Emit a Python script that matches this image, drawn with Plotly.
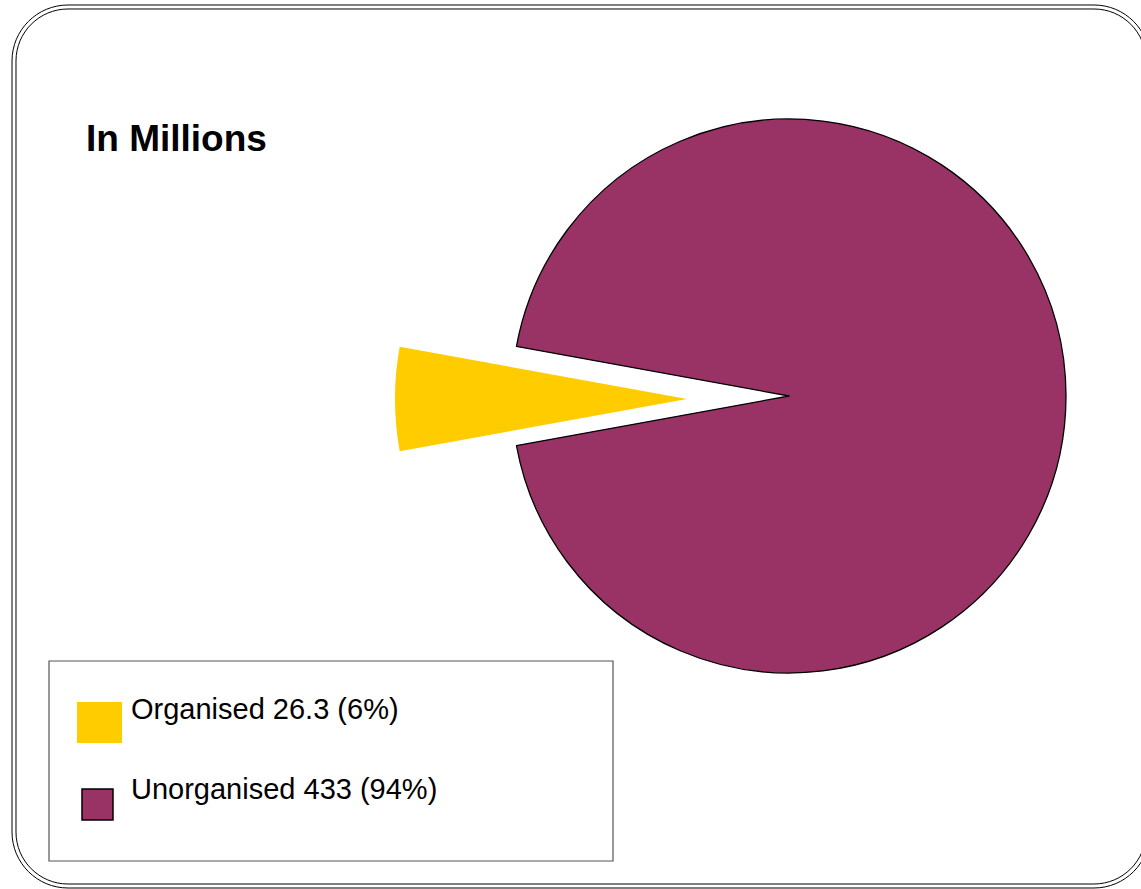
import plotly.graph_objects as go

# Canvas size in pixels
W, H = 1141, 889

# Workforce split, in millions
labels = ["Organised", "Unorganised"]
values = [26.3, 433]
percent_labels = [6, 94]
colors = ["#FFCC00", "#993366"]

title_text = "In Millions"
font_family = "Liberation Sans, Arial, sans-serif"


def fx(px):
    """Pixel x -> paper fraction."""
    return px / W


def fy(py):
    """Pixel y (from the top) -> paper fraction."""
    return 1 - py / H


def box_domain(cx, cy, r):
    return dict(x=[fx(cx - r), fx(cx + r)], y=[fy(cy + r), fy(cy - r)])


def rounded_rect(x0, y0, x1, y1, r):
    k = 0.5523 * r
    pts = [
        ("M", [(x0 + r, y0)]),
        ("L", [(x1 - r, y0)]),
        ("C", [(x1 - r + k, y0), (x1, y0 + r - k), (x1, y0 + r)]),
        ("L", [(x1, y1 - r)]),
        ("C", [(x1, y1 - r + k), (x1 - r + k, y1), (x1 - r, y1)]),
        ("L", [(x0 + r, y1)]),
        ("C", [(x0 + r - k, y1), (x0, y1 - r + k), (x0, y1 - r)]),
        ("L", [(x0, y0 + r)]),
        ("C", [(x0, y0 + r - k), (x0 + r - k, y0), (x0 + r, y0)]),
    ]
    parts = []
    for cmd, coords in pts:
        parts.append(cmd + " ".join(f"{fx(a):.5f},{fy(b):.5f}" for a, b in coords))
    return " ".join(parts) + " Z"


total = sum(values)
first_span = values[0] / total * 360
# put the first slice centred on 9 o'clock
rotation = 270 - first_span / 2
clear = "rgba(0,0,0,0)"

fig = go.Figure()

# Body of the pie: unorganised share, with the organised wedge left open
fig.add_trace(go.Pie(
    labels=labels,
    values=values,
    sort=False,
    direction="clockwise",
    rotation=rotation,
    marker=dict(colors=[clear, colors[1]],
                line=dict(color=[clear, "#000000"], width=[0, 1.3])),
    textinfo="none",
    hoverinfo="label+value+percent",
    showlegend=False,
    domain=box_domain(789, 396, 277),
))

# Exploded organised wedge, pushed out to the left
fig.add_trace(go.Pie(
    labels=labels,
    values=values,
    sort=False,
    direction="clockwise",
    rotation=rotation,
    marker=dict(colors=[colors[0], clear],
                line=dict(color=[clear, clear], width=[0, 0])),
    textinfo="none",
    hoverinfo="label+value+percent",
    showlegend=False,
    domain=box_domain(687, 399, 292),
))

shapes = [
    # double rounded frame
    dict(type="path", xref="paper", yref="paper",
         path=rounded_rect(12, 5, 1150, 888, 56),
         line=dict(color="#000000", width=1)),
    dict(type="path", xref="paper", yref="paper",
         path=rounded_rect(16, 9, 1146, 884, 52),
         line=dict(color="#000000", width=1)),
    # legend box
    dict(type="rect", xref="paper", yref="paper",
         x0=fx(49), x1=fx(613), y0=fy(861), y1=fy(661),
         line=dict(color="#555555", width=1.2), fillcolor="white"),
    # legend swatches
    dict(type="rect", xref="paper", yref="paper",
         x0=fx(77), x1=fx(122), y0=fy(743), y1=fy(702),
         line=dict(width=0), fillcolor=colors[0]),
    dict(type="rect", xref="paper", yref="paper",
         x0=fx(82), x1=fx(113), y0=fy(820), y1=fy(789),
         line=dict(color="#000000", width=1.5), fillcolor=colors[1]),
]

annotations = [
    dict(text=f"<b>{title_text}</b>", x=fx(84), y=fy(138),
         xref="paper", yref="paper", xanchor="left", yanchor="middle",
         showarrow=False, font=dict(family=font_family, size=37, color="#000000")),
]
for label, value, pct, ypix in zip(labels, values, percent_labels, [709, 789]):
    annotations.append(dict(
        text=f"{label} {value} ({pct}%)", x=fx(129), y=fy(ypix),
        xref="paper", yref="paper", xanchor="left", yanchor="middle",
        showarrow=False, font=dict(family=font_family, size=29, color="#000000"),
    ))

fig.update_layout(
    width=W,
    height=H,
    margin=dict(l=0, r=0, t=0, b=0),
    paper_bgcolor="white",
    plot_bgcolor="white",
    shapes=shapes,
    annotations=annotations,
    showlegend=False,
)

fig.write_html("out.html")
